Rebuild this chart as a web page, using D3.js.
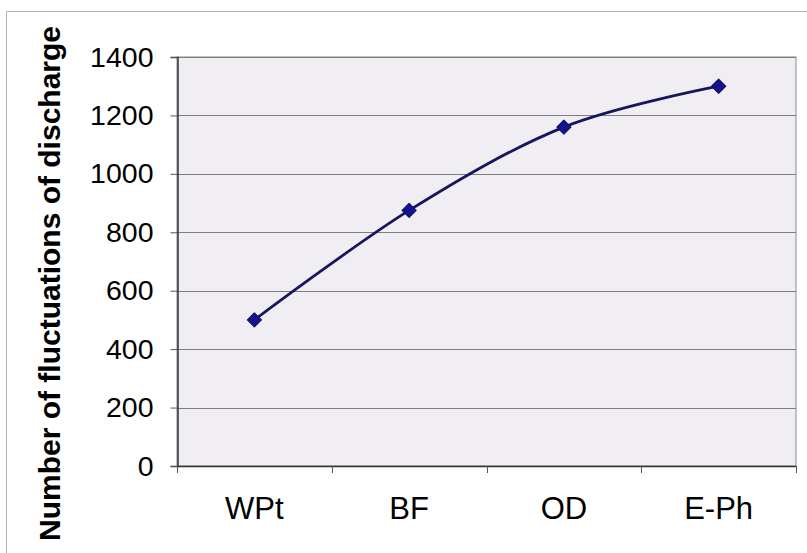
<!DOCTYPE html>
<html>
<head>
<meta charset="utf-8">
<script src="https://cdn.jsdelivr.net/npm/d3@7"></script>
<style>
  html, body { margin: 0; padding: 0; background: #ffffff; }
  svg { display: block; }
  text { font-family: Arial, "Liberation Sans", sans-serif; fill: #000; }
</style>
</head>
<body>
<svg id="chart" width="807" height="553"></svg>
<script>
// Discharge fluctuation counts per phase
const categories = ["WPt", "BF", "OD", "E-Ph"];
const values = [500, 875, 1160, 1300];
const yTicks = [0, 200, 400, 600, 800, 1000, 1200, 1400];
const yTitle = "Number of fluctuations of discharge";

const W = 807, H = 553;
const plot = { left: 177, right: 796, top: 57, bottom: 466 };

const svg = d3.select("#chart");

// outer frame
svg.append("path")
  .attr("d", `M6.5,${H} V11.5 H${W}`)
  .attr("fill", "none")
  .attr("stroke", "#b5b5b5")
  .attr("stroke-width", 1);

const x = d3.scaleBand()
  .domain(categories)
  .range([plot.left, plot.right])
  .paddingInner(0).paddingOuter(0);

const y = d3.scaleLinear()
  .domain([0, 1400])
  .range([plot.bottom, plot.top]);

// plot area background
svg.append("rect")
  .attr("x", plot.left).attr("y", plot.top)
  .attr("width", plot.right - plot.left)
  .attr("height", plot.bottom - plot.top)
  .attr("fill", "#f0eef3")
  .attr("stroke", "#8a8a8a")
  .attr("stroke-width", 1);

// horizontal gridlines
svg.append("g")
  .selectAll("line")
  .data(yTicks.filter(d => d > 0))
  .join("line")
  .attr("x1", plot.left).attr("x2", plot.right)
  .attr("y1", d => Math.round(y(d)) + 0.5)
  .attr("y2", d => Math.round(y(d)) + 0.5)
  .attr("stroke", "#7d7d7d")
  .attr("stroke-width", 1);

// y axis
const yAxis = d3.axisLeft(y)
  .tickValues(yTicks)
  .tickSize(7)
  .tickPadding(17)
  .tickFormat(d3.format("d"));

const gy = svg.append("g")
  .attr("transform", `translate(${plot.left + 0.5},0)`)
  .call(yAxis);
gy.select(".domain").attr("stroke", "#333").attr("stroke-width", 1.5);
gy.selectAll(".tick line").attr("stroke", "#555");
gy.selectAll(".tick text")
  .attr("font-size", 28.5)
  .attr("font-family", "Arial, 'Liberation Sans', sans-serif")
  .attr("fill", "#000");

// x axis: ticks at category boundaries
const boundaries = categories.map(c => x(c)).concat([plot.right]);
const gx = svg.append("g");
gx.append("line")
  .attr("x1", plot.left).attr("x2", plot.right)
  .attr("y1", plot.bottom + 0.5).attr("y2", plot.bottom + 0.5)
  .attr("stroke", "#333").attr("stroke-width", 1.5);
gx.selectAll("line.tick")
  .data(boundaries)
  .join("line")
  .attr("class", "tick")
  .attr("x1", d => Math.round(d) + 0.5).attr("x2", d => Math.round(d) + 0.5)
  .attr("y1", plot.bottom).attr("y2", plot.bottom + 7)
  .attr("stroke", "#555");
gx.selectAll("text")
  .data(categories)
  .join("text")
  .attr("x", d => x(d) + x.bandwidth() / 2)
  .attr("y", 519)
  .attr("text-anchor", "middle")
  .attr("font-size", 31)
  .text(d => d);

// y axis title
svg.append("text")
  .attr("transform", `translate(60,${(22 + 545) / 2}) rotate(-90)`)
  .attr("text-anchor", "middle")
  .attr("font-size", 30)
  .attr("font-weight", "bold")
  .text(yTitle);

// smoothed series line
const pts = categories.map((c, i) => [x(c) + x.bandwidth() / 2, y(values[i])]);
svg.append("path")
  .datum(pts)
  .attr("d", d3.line().curve(d3.curveCatmullRom.alpha(0)))
  .attr("fill", "none")
  .attr("stroke", "#16165e")
  .attr("stroke-width", 2.8);

// diamond markers
svg.append("g")
  .selectAll("path")
  .data(pts)
  .join("path")
  .attr("transform", d => `translate(${d[0]},${d[1]})`)
  .attr("d", d3.symbol(d3.symbolDiamond2, 125)())
  .attr("fill", "#14148c")
  .attr("stroke", "#10106e")
  .attr("stroke-width", 1.2)
  .attr("stroke-linejoin", "round");
</script>
</body>
</html>
